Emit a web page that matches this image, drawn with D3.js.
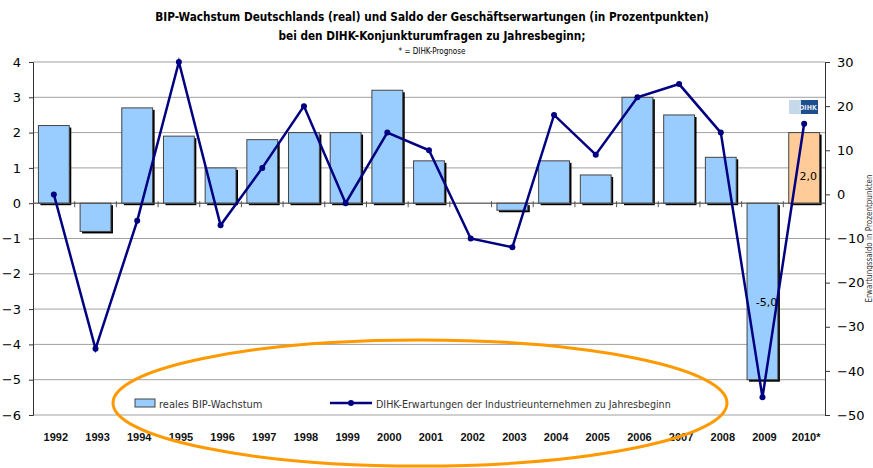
<!DOCTYPE html>
<html>
<head>
<meta charset="utf-8">
<script src="https://d3js.org/d3.v7.min.js"></script>
<style>
body { margin: 0; background: #fff; }
text { font-family: "DejaVu Sans Condensed", "DejaVu Sans", sans-serif; }
</style>
</head>
<body>
<script>
// data
const years = ["1992","1993","1994","1995","1996","1997","1998","1999","2000","2001",
               "2002","2003","2004","2005","2006","2007","2008","2009","2010*"];
const bip = [2.2,-0.8,2.7,1.9,1.0,1.8,2.0,2.0,3.2,1.2,0.0,-0.2,1.2,0.8,3.0,2.5,1.3,-5.0,2.0];
const dihk = [0,-35,-6,30,-7,6,20,-2,14,10,-10,-12,18,9,22,25,14,-46,16];
const leftTicks = [4,3,2,1,0,-1,-2,-3,-4,-5,-6];
const rightTicks = [30,20,10,0,-10,-20,-30,-40,-50];
const barLabels = [{year:"2009", text:"-5,0", at:-2.9}, {year:"2010*", text:"2,0", at:0.65}];

const W = 873, H = 468;
const pL = 33, pR = 825, pT = 62, pB = 415;

const svg = d3.select("body").append("svg").attr("width", W).attr("height", H);

const x = d3.scaleBand().domain(years).range([pL, pR]).paddingInner(0.26).paddingOuter(0.13);
const yL = d3.scaleLinear().domain([-6, 4]).range([pB, pT]);
const yR = d3.scaleLinear().domain([-50, 30]).range([pB, pT]);

// title
svg.append("text").attr("x", 432).attr("y", 21).attr("text-anchor", "middle")
  .style("font-size", "11.7px").style("font-weight", "bold")
  .text("BIP-Wachstum Deutschlands (real) und Saldo der Geschäftserwartungen (in Prozentpunkten)");
svg.append("text").attr("x", 432).attr("y", 40).attr("text-anchor", "middle")
  .style("font-size", "11.7px").style("font-weight", "bold")
  .text("bei den DIHK-Konjunkturumfragen zu Jahresbeginn;");
svg.append("text").attr("x", 432).attr("y", 54).attr("text-anchor", "middle")
  .style("font-size", "8px")
  .text("* = DIHK-Prognose");

// gridlines
svg.append("g").selectAll("line").data(leftTicks).join("line")
  .attr("x1", pL).attr("x2", pR)
  .attr("y1", d => yL(d)).attr("y2", d => yL(d))
  .attr("stroke", "#a0a0a0").attr("stroke-width", 1);

// left axis
const axL = svg.append("g").attr("transform", `translate(${pL},0)`)
  .call(d3.axisLeft(yL).tickValues(leftTicks).tickSize(4).tickPadding(8).tickFormat(d => d < 0 ? "\u2212" + Math.abs(d) : d));
axL.selectAll("text").style("font-size", "13px").style("font-family", "DejaVu Sans");
axL.selectAll("line, path").attr("stroke", "#333");

// right axis
const axR = svg.append("g").attr("transform", `translate(${pR},0)`)
  .call(d3.axisRight(yR).tickValues(rightTicks).tickSize(5).tickPadding(7).tickFormat(d => d < 0 ? "\u2212" + Math.abs(d) : d));
axR.selectAll("text").style("font-size", "13px").style("font-family", "DejaVu Sans");
axR.selectAll("line, path").attr("stroke", "#333");

svg.append("text")
  .attr("transform", `translate(872,${yR(-10)}) rotate(-90)`)
  .attr("text-anchor", "middle").style("font-size", "8px").attr("fill", "#333")
  .text("Erwartungssaldo in Prozentpunkten");

// bars: shadow then bar
const bars = svg.append("g");
const step = x.step();
bars.selectAll("rect.sh").data(bip).join("rect").attr("class", "sh")
  .attr("x", (d, i) => x(years[i]) + 2)
  .attr("y", d => Math.min(yL(d), yL(0)) + 2)
  .attr("width", x.bandwidth())
  .attr("height", d => Math.abs(yL(d) - yL(0)))
  .attr("fill", "#000");
bars.selectAll("rect.bar").data(bip).join("rect").attr("class", "bar")
  .attr("x", (d, i) => x(years[i]))
  .attr("y", d => Math.min(yL(d), yL(0)))
  .attr("width", x.bandwidth())
  .attr("height", d => Math.abs(yL(d) - yL(0)))
  .attr("fill", (d, i) => i === years.length - 1 ? "#ffcc99" : "#99ccff")
  .attr("stroke", "#444").attr("stroke-width", 1);

// category axis on zero line
svg.append("line").attr("x1", pL).attr("x2", pR)
  .attr("y1", yL(0)).attr("y2", yL(0)).attr("stroke", "#555");
svg.append("g").selectAll("line").data(years.slice(1)).join("line")
  .attr("x1", d => x(d) - step * x.paddingInner() / 2)
  .attr("x2", d => x(d) - step * x.paddingInner() / 2)
  .attr("y1", yL(0) - 2).attr("y2", yL(0) + 4).attr("stroke", "#555");

// year labels
svg.append("g").selectAll("text").data(years).join("text")
  .attr("x", d => x(d) + x.bandwidth() / 2 + 2)
  .attr("y", 441).attr("text-anchor", "middle")
  .style("font-size", "11px").style("font-weight", "bold").style("font-family", "Liberation Sans")
  .attr("fill", "#111")
  .text(d => d);

// bar value labels
svg.append("g").selectAll("text").data(barLabels).join("text")
  .attr("x", d => x(d.year) + x.bandwidth() / 2 + 4)
  .attr("y", d => yL(d.at))
  .attr("text-anchor", "middle").style("font-size", "11px").style("font-family", "DejaVu Sans")
  .text(d => d.text);

// DIHK logo
const logo = svg.append("g").attr("transform", "translate(789,100)");
logo.append("rect").attr("width", 29).attr("height", 14).attr("fill", "#c6d9ea");
logo.append("rect").attr("x", 12).attr("width", 17).attr("height", 14).attr("fill", "#1f4e8c");
logo.append("text").attr("x", 19).attr("y", 10).attr("text-anchor", "middle")
  .style("font-size", "7px").style("font-weight", "bold").attr("fill", "#dfe8f3").text("DIHK");

// line
const line = d3.line().x((d, i) => x(years[i]) + x.bandwidth() / 2).y(d => yR(d));
svg.append("path").datum(dihk).attr("d", line)
  .attr("fill", "none").attr("stroke", "#000080").attr("stroke-width", 2.5);
svg.append("g").selectAll("circle").data(dihk).join("circle")
  .attr("cx", (d, i) => x(years[i]) + x.bandwidth() / 2).attr("cy", d => yR(d))
  .attr("r", 3).attr("fill", "#000080");

// legend
const lg = svg.append("g");
lg.append("rect").attr("x", 135).attr("y", 399).attr("width", 20).attr("height", 8)
  .attr("fill", "#99ccff").attr("stroke", "#444");
lg.append("text").attr("x", 159).attr("y", 408).style("font-size", "11px").attr("fill", "#333")
  .text("reales BIP-Wachstum");
lg.append("line").attr("x1", 330).attr("x2", 372).attr("y1", 403).attr("y2", 403)
  .attr("stroke", "#000080").attr("stroke-width", 2.5);
lg.append("circle").attr("cx", 351).attr("cy", 403).attr("r", 3).attr("fill", "#000080");
lg.append("text").attr("x", 376).attr("y", 408).style("font-size", "10.6px").attr("fill", "#333")
  .text("DIHK-Erwartungen der Industrieunternehmen zu Jahresbeginn");

// orange highlight ellipse
svg.append("ellipse").attr("cx", 420).attr("cy", 403).attr("rx", 307).attr("ry", 63)
  .attr("fill", "none").attr("stroke", "#ff9900").attr("stroke-width", 3);
</script>
</body>
</html>
